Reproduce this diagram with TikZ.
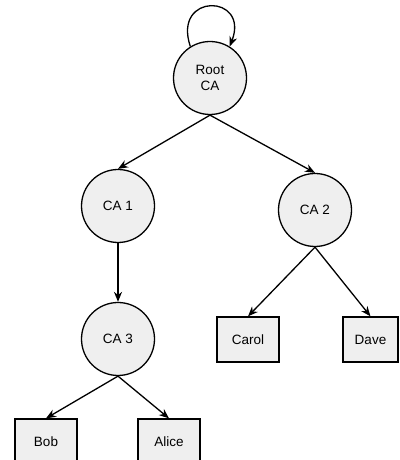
\documentclass[tikz,border=0pt]{standalone}
\usepackage{fontspec}
\setmainfont{Liberation Sans}
\usetikzlibrary{arrows.meta}
\definecolor{cafill}{HTML}{EFEFEF}

\begin{document}
\begin{tikzpicture}[x=1pt,y=1pt,
    font=\fontsize{13.5}{16}\selectfont,
    ca/.style={circle,draw,line width=1.3pt,fill=cafill,minimum size=73pt,inner sep=0pt,align=center},
    leaf/.style={rectangle,draw,line width=1.3pt,fill=cafill,minimum width=62pt,minimum height=45pt,inner sep=0pt},
    sign/.style={-{Stealth[length=10pt,width=8pt]},line width=1.3pt}]
  \useasboundingbox (0,0) rectangle (399,460);
    \node[ca] (root) at (210,382) {Root\\CA};
    \node[ca] (caone) at (118,254) {CA 1};
    \node[ca] (catwo) at (315,250) {CA 2};
    \node[ca] (cathree) at (118,121) {CA 3};
    \node[leaf] (carol) at (248,120.5) {Carol};
    \node[leaf,minimum width=55pt] (dave) at (370.5,120.5) {Dave};
    \node[leaf] (bob) at (46,18.5) {Bob};
    \node[leaf] (alice) at (169,18.5) {Alice};

    \draw[sign] (root.122) .. controls (172,468) and (250,466) .. (root.58);
    \draw[sign] (root.south) -- (caone.north);
    \draw[sign] (root.south) -- (catwo.north);
    \draw[sign] (caone.south) -- (cathree.north);
    \draw[sign] (catwo.south) -- (carol.north);
    \draw[sign] (catwo.south) -- (dave.north);
    \draw[sign] (cathree.south) -- (bob.north);
    \draw[sign] (cathree.south) -- (alice.north);
\end{tikzpicture}
\end{document}
